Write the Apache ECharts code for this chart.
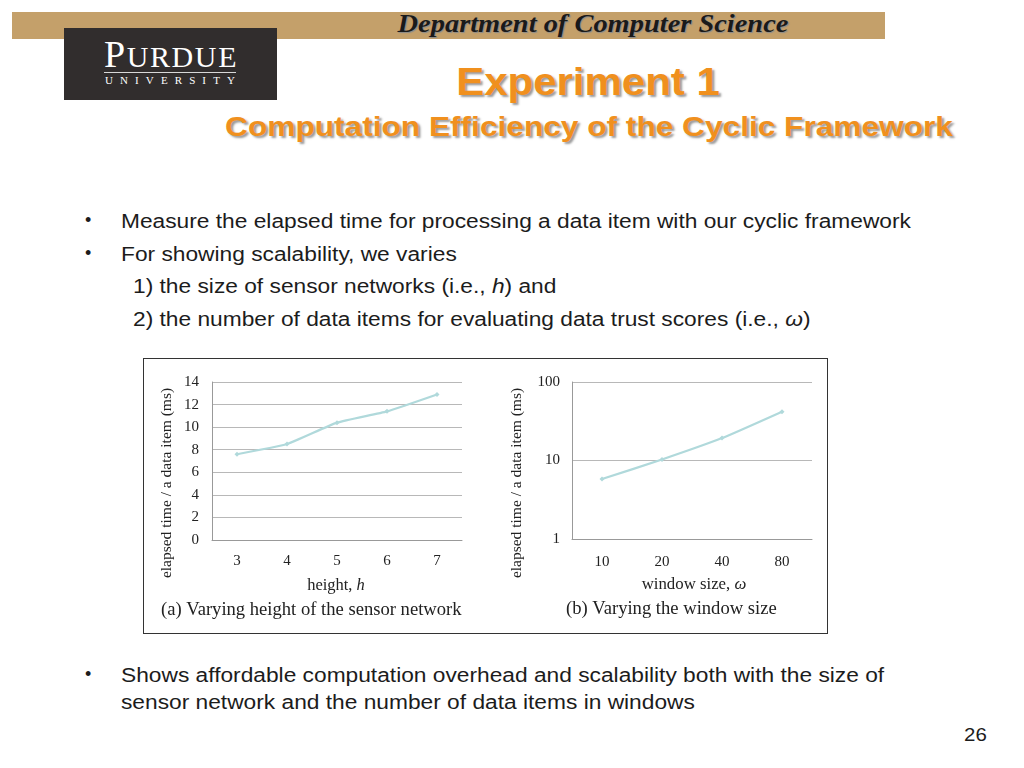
<!DOCTYPE html>
<html>
<head>
<meta charset="utf-8">
<script src="https://cdn.jsdelivr.net/npm/echarts@6/dist/echarts.min.js"></script>
<style>
  html, body { margin: 0; padding: 0; background: #fff; }
  #page { position: relative; width: 1024px; height: 768px; overflow: hidden; font-family: "Liberation Sans", Arial, sans-serif; }
  .abs { position: absolute; white-space: nowrap; }
  #bar { left: 12px; top: 12px; width: 873px; height: 27px; background: #c4a06a; }
  #dept { left: 293px; width: 600px; top: 10px; text-align: center; font-family: "Liberation Serif", serif; font-style: italic; font-weight: bold; font-size: 25px; color: #1a1a1a; text-shadow: 1px 1px 1px #8a8a8a; transform: scaleX(1.137); transform-origin: 50% 50%; }
  #logo { left: 64px; top: 28px; width: 213px; height: 72px; background: #312d2d; }
  #purdue { left: 104px; top: 34px; color: #fff; font-family: "Liberation Serif", serif; font-size: 38px; letter-spacing: 1.6px; line-height: 40px; }
  #purdue span { font-size: 30px; }
  #rule { left: 104px; top: 72px; width: 132px; height: 1px; background: #d8d8d8; }
  #univ { left: 105px; top: 74px; color: #fff; font-family: "Liberation Serif", serif; font-size: 11px; letter-spacing: 7.1px; }
  #title1 { left: 288px; width: 600px; top: 61px; text-align: center; color: #f0901e; font-weight: bold; font-size: 38px; text-shadow: 2px 2px 2px #9a9a9a; transform: scaleX(1.105); transform-origin: 50% 50%; }
  #title2 { left: 189px; width: 800px; top: 111px; text-align: center; color: #f0901e; font-weight: bold; font-size: 28px; text-shadow: 2px 2px 2px #9a9a9a; transform: scaleX(1.13); transform-origin: 50% 50%; }
  .txt { font-size: 20px; color: #1c1c1c; transform: scaleX(1.137); transform-origin: 0 50%; }
  .dot { font-size: 18px; color: #1c1c1c; }
  #chartbox { left: 143px; top: 358px; width: 683px; height: 274px; border: 1px solid #333; }
  #chart { position: absolute; left: 0; top: 0; width: 683px; height: 274px; }
</style>
</head>
<body>
<div id="page">
  <div class="abs" id="bar"></div>
  <div class="abs" id="dept">Department of Computer Science</div>
  <div class="abs" id="logo"></div>
  <div class="abs" id="purdue">P<span>URDUE</span></div>
  <div class="abs" id="rule"></div>
  <div class="abs" id="univ">UNIVERSITY</div>
  <div class="abs" id="title1">Experiment 1</div>
  <div class="abs" id="title2">Computation Efficiency of the Cyclic Framework</div>

  <div class="abs dot" style="left:85px;top:210px;">•</div>
  <div class="abs txt" style="left:121px;top:210px;">Measure the elapsed time for processing a data item with our cyclic framework</div>
  <div class="abs dot" style="left:85px;top:243px;">•</div>
  <div class="abs txt" style="left:121px;top:243px;">For showing scalability, we varies</div>
  <div class="abs txt" style="left:133px;top:275px;">1) the size of sensor networks (i.e., <i>h</i>) and</div>
  <div class="abs txt" style="left:133px;top:308px;">2) the number of data items for evaluating data trust scores (i.e., <i>ω</i>)</div>

  <div class="abs" id="chartbox"><div id="chart"></div></div>

  <div class="abs dot" style="left:85px;top:664px;">•</div>
  <div class="abs txt" style="left:121px;top:664px;">Shows affordable computation overhead and scalability both with the size of</div>
  <div class="abs txt" style="left:121px;top:691px;">sensor network and the number of data items in windows</div>
  <div class="abs txt" style="left:964px;top:725px;font-size:18px;">26</div>
</div>
<script>
// Chart (a): varying height of the sensor network
var heightCats = ['3', '4', '5', '6', '7'];
var heightTimes = [7.6, 8.5, 10.4, 11.4, 12.9];
var heightTicks = [0, 2, 4, 6, 8, 10, 12, 14];
// Chart (b): varying the window size (log scale)
var windowCats = ['10', '20', '40', '80'];
var windowTimes = [5.8, 10.3, 19.3, 41.9];
var windowTicks = [1, 10, 100];

var serif = '"Liberation Serif", "Times New Roman", serif';
var lineColor = '#b0d9db';
var labelStyle = { fontFamily: serif, fontSize: 15, color: '#222' };

var chart = echarts.init(document.getElementById('chart'), null, { renderer: 'canvas' });
chart.setOption({
  animation: false,
  grid: [
    { left: 68, top: 23, width: 250, height: 158 },
    { left: 428, top: 23, width: 240, height: 157 }
  ],
  xAxis: [
    { type: 'category', gridIndex: 0, data: heightCats, boundaryGap: true,
      axisLine: { show: true, lineStyle: { color: '#999' } }, axisTick: { show: false },
      axisLabel: Object.assign({ margin: 14 }, labelStyle) },
    { type: 'category', gridIndex: 1, data: windowCats, boundaryGap: true,
      axisLine: { show: true, lineStyle: { color: '#999' } }, axisTick: { show: false },
      axisLabel: Object.assign({ margin: 16 }, labelStyle) }
  ],
  yAxis: [
    { type: 'value', gridIndex: 0, min: heightTicks[0], max: heightTicks[heightTicks.length - 1], interval: 2,
      axisLine: { show: true, lineStyle: { color: '#999' } }, axisTick: { show: false },
      splitLine: { lineStyle: { color: '#b8b8b8' } },
      axisLabel: Object.assign({ margin: 13 }, labelStyle) },
    { type: 'log', gridIndex: 1, logBase: 10, min: windowTicks[0], max: windowTicks[windowTicks.length - 1],
      axisLine: { show: true, lineStyle: { color: '#999' } }, axisTick: { show: false },
      splitLine: { lineStyle: { color: '#b8b8b8' } }, minorSplitLine: { show: false },
      axisLabel: Object.assign({ margin: 12 }, labelStyle) }
  ],
  series: [
    { type: 'line', xAxisIndex: 0, yAxisIndex: 0, data: heightTimes, smooth: 0.15,
      symbol: 'diamond', symbolSize: 5, lineStyle: { color: lineColor, width: 2.2 },
      itemStyle: { color: lineColor } },
    { type: 'line', xAxisIndex: 1, yAxisIndex: 1, data: windowTimes, smooth: 0.15,
      symbol: 'diamond', symbolSize: 5, lineStyle: { color: lineColor, width: 2.2 },
      itemStyle: { color: lineColor } }
  ],
  graphic: [
    { type: 'text', x: 23, y: 124, rotation: Math.PI / 2, style: { text: 'elapsed time / a data item (ms)', font: '15.5px ' + serif, fill: '#222', textAlign: 'center', textVerticalAlign: 'middle' } },
    { type: 'text', x: 373, y: 124, rotation: Math.PI / 2, style: { text: 'elapsed time / a data item (ms)', font: '15.5px ' + serif, fill: '#222', textAlign: 'center', textVerticalAlign: 'middle' } },
    { type: 'text', x: 192, y: 227, style: { rich: { n: { font: '16.5px ' + serif, fill: '#222' }, i: { font: 'italic 16.5px ' + serif, fill: '#222' } }, text: '{n|height, }{i|h}', textAlign: 'center', textVerticalAlign: 'middle' } },
    { type: 'text', x: 17, y: 251, style: { text: '(a) Varying height of the sensor network', font: '18.6px ' + serif, fill: '#222', textVerticalAlign: 'middle' } },
    { type: 'text', x: 550, y: 226, style: { rich: { n: { font: '16.8px ' + serif, fill: '#222' }, i: { font: 'italic 16.8px ' + serif, fill: '#222' } }, text: '{n|window size, }{i|ω}', textAlign: 'center', textVerticalAlign: 'middle' } },
    { type: 'text', x: 422, y: 250, style: { text: '(b) Varying the window size', font: '18.6px ' + serif, fill: '#222', textVerticalAlign: 'middle' } }
  ]
});
</script>
</body>
</html>
